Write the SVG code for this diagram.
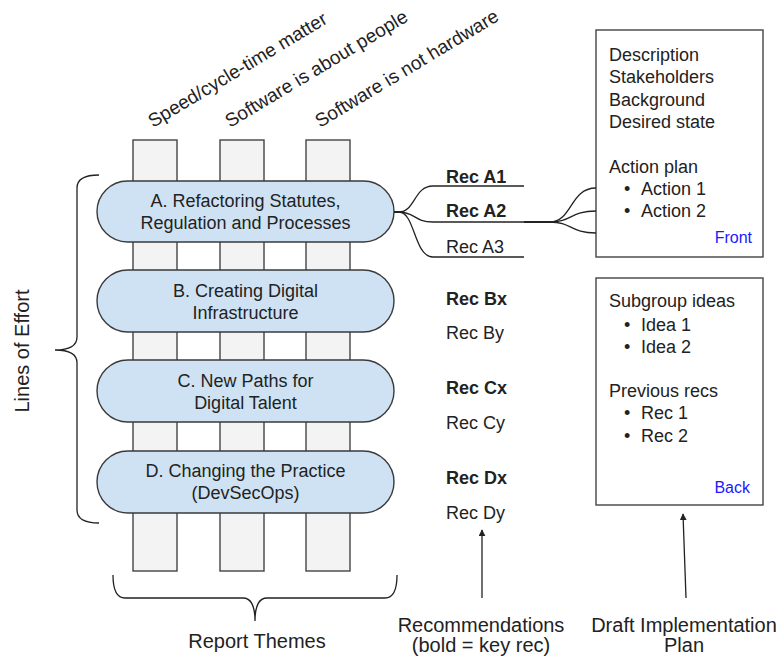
<svg xmlns="http://www.w3.org/2000/svg" width="782" height="657" viewBox="0 0 782 657">
<defs>
<style>
text{font-family:"Liberation Sans",Arial,sans-serif;fill:#222;}
.t18{font-size:18px;}
.b{font-weight:bold;}
.c{text-anchor:middle;}
.rot{font-size:19px;}
.pillar{fill:#f3f3f3;stroke:#444;stroke-width:1.4;}
.loe{fill:#cfe2f3;stroke:#3a3a3a;stroke-width:1.4;}
.box{fill:#fff;stroke:#444;stroke-width:1.4;}
.ln{fill:none;stroke:#222;stroke-width:1.3;}
.blue{fill:#1a1aff;font-size:16px;text-anchor:end;}
</style>
<marker id="ah" viewBox="0 0 10 10" refX="9" refY="5" markerWidth="7" markerHeight="7" markerUnits="userSpaceOnUse" orient="auto">
<path d="M0,0 L10,5 L0,10 z" fill="#222"/>
</marker>
</defs>
<rect width="782" height="657" fill="#fff"/>

<g id="themes">
<rect class="pillar" x="133" y="140" width="44" height="431"/>
<rect class="pillar" x="220" y="140" width="44" height="431"/>
<rect class="pillar" x="306" y="140" width="44" height="431"/>
<text class="rot" transform="translate(153,128) rotate(-31)">Speed/cycle-time matter</text>
<text class="rot" transform="translate(230,128) rotate(-31)">Software is about people</text>
<text class="rot" transform="translate(320,128) rotate(-31)">Software is not hardware</text>
</g>

<g id="loe-a">
<rect class="loe" x="97" y="181" width="297" height="61" rx="30.5"/>
<text class="t18 c" x="245.5" y="207">A. Refactoring Statutes,</text>
<text class="t18 c" x="245.5" y="229">Regulation and Processes</text>
</g>
<g id="loe-b">
<rect class="loe" x="97" y="270" width="297" height="62" rx="31"/>
<text class="t18 c" x="245.5" y="297">B. Creating Digital</text>
<text class="t18 c" x="245.5" y="319">Infrastructure</text>
</g>
<g id="loe-c">
<rect class="loe" x="97" y="360" width="297" height="62" rx="31"/>
<text class="t18 c" x="245.5" y="387">C. New Paths for</text>
<text class="t18 c" x="245.5" y="409">Digital Talent</text>
</g>
<g id="loe-d">
<rect class="loe" x="97" y="451" width="297" height="62" rx="31"/>
<text class="t18 c" x="245.5" y="477">D. Changing the Practice</text>
<text class="t18 c" x="245.5" y="499">(DevSecOps)</text>
</g>

<g id="lines-of-effort">
<path class="ln" d="M99,175 Q77,175 77,188 L77,337 Q77,350 55,350 Q77,350 77,363 L77,510 Q77,523 99,523"/>
<text class="c" font-size="20" transform="translate(29,351) rotate(-90)">Lines of Effort</text>
</g>

<g id="report-themes">
<path class="ln" d="M113,575 Q113,598 125,598 L243,598 Q255,598 255,621 Q255,598 267,598 L385,598 Q397,598 397,575"/>
<text class="c" font-size="20" x="257" y="648">Report Themes</text>
</g>

<g id="recs">
<text class="t18 b" x="446" y="183">Rec A1</text>
<text class="t18 b" x="446" y="217">Rec A2</text>
<text class="t18" x="446" y="253">Rec A3</text>
<text class="t18 b" x="446" y="305">Rec Bx</text>
<text class="t18" x="446" y="339">Rec By</text>
<text class="t18 b" x="446" y="394">Rec Cx</text>
<text class="t18" x="446" y="429">Rec Cy</text>
<text class="t18 b" x="446" y="484">Rec Dx</text>
<text class="t18" x="446" y="519">Rec Dy</text>
</g>

<g id="front-card">
<rect class="box" x="596" y="30" width="167" height="227"/>
<text class="t18" x="609" y="61">Description</text>
<text class="t18" x="609" y="83">Stakeholders</text>
<text class="t18" x="609" y="106">Background</text>
<text class="t18" x="609" y="128">Desired state</text>
<text class="t18" x="609" y="173">Action plan</text>
<text class="t18" x="624" y="195">•</text>
<text class="t18" x="641" y="195">Action 1</text>
<text class="t18" x="624" y="217">•</text>
<text class="t18" x="641" y="217">Action 2</text>
<text class="blue" x="752" y="243">Front</text>
</g>

<g id="back-card">
<rect class="box" x="596" y="278" width="167" height="227"/>
<text class="t18" x="609" y="307">Subgroup ideas</text>
<text class="t18" x="624" y="331">•</text>
<text class="t18" x="641" y="331">Idea 1</text>
<text class="t18" x="624" y="353">•</text>
<text class="t18" x="641" y="353">Idea 2</text>
<text class="t18" x="609" y="397">Previous recs</text>
<text class="t18" x="624" y="419">•</text>
<text class="t18" x="641" y="419">Rec 1</text>
<text class="t18" x="624" y="442">•</text>
<text class="t18" x="641" y="442">Rec 2</text>
<text class="blue" x="750" y="493">Back</text>
</g>

<g id="labels">
<text class="c" font-size="20" x="481" y="632">Recommendations</text>
<text class="c" font-size="20" x="481" y="652">(bold = key rec)</text>
<text class="c" font-size="20" x="684" y="632">Draft Implementation</text>
<text class="c" font-size="20" x="684" y="652">Plan</text>
</g>

<g id="connectors">
<line class="ln" x1="433" y1="186" x2="524" y2="186"/>
<line class="ln" x1="433" y1="222" x2="524" y2="222"/>
<line class="ln" x1="433" y1="257" x2="524" y2="257"/>
<path class="ln" d="M394,212 L399,212 C415,212 414,186 433,186"/>
<path class="ln" d="M394,212 L399,212 C415,212 414,222 433,222"/>
<path class="ln" d="M394,212 L399,212 C415,212 414,257 433,257"/>
<path class="ln" d="M524,222 L550,222 C572,222 570,188 596,188"/>
<path class="ln" d="M524,222 L550,222 C572,222 570,211 596,211"/>
<path class="ln" d="M524,222 L550,222 C572,222 570,233 596,233"/>
<line class="ln" x1="482" y1="598" x2="482" y2="530" marker-end="url(#ah)"/>
<line class="ln" x1="686" y1="598" x2="683" y2="514" marker-end="url(#ah)"/>
</g>
</svg>
